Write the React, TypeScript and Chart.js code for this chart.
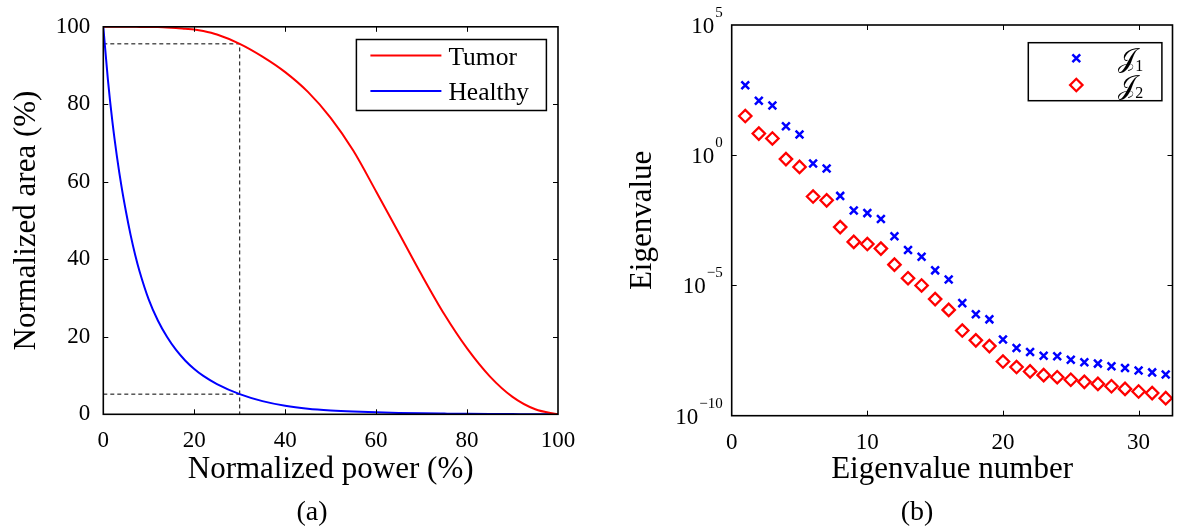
import React, { useEffect, useRef } from "react";
import { Chart, registerables } from "chart.js";

Chart.register(...registerables);

const SERIF = '"Liberation Serif", "Times New Roman", "DejaVu Serif", serif';

// ---------- (a) Normalized area vs normalized power ----------
const powerPct = [0, 1, 2, 3, 4, 5, 6, 7, 8, 10, 12, 14, 16, 18, 20, 22, 25, 30, 35, 40, 45, 50, 55, 60, 65, 70, 75, 80, 85, 90, 95, 100];
const tumorArea = [100, 100, 100, 100, 100, 100, 100, 99.99, 99.98, 99.97, 99.93, 99.85, 99.7, 99.5, 99.3, 98.9, 98.0, 95.6, 92.3, 88.3, 83.2, 76.5, 68.0, 57.5, 46.8, 36.0, 25.8, 17.0, 9.8, 4.5, 1.3, 0];
const healthyArea = [100, 86.5, 75.5, 66.5, 58.8, 52.2, 46.3, 41.2, 36.8, 29.6, 24.2, 20.0, 16.6, 13.9, 11.7, 9.9, 7.8, 5.2, 3.4, 2.2, 1.45, 1.0, 0.7, 0.5, 0.35, 0.25, 0.18, 0.12, 0.08, 0.05, 0.03, 0];
const markerPower = 30;
const tumorAtMarker = 95.6;
const healthyAtMarker = 5.2;
const powerTicks = [0, 20, 40, 60, 80, 100];
const areaTicks = [0, 20, 40, 60, 80, 100];
const seriesNamesA = ["Tumor", "Healthy"];

// ---------- (b) Eigenvalues ----------
const eigNumber = [1, 2, 3, 4, 5, 6, 7, 8, 9, 10, 11, 12, 13, 14, 15, 16, 17, 18, 19, 20, 21, 22, 23, 24, 25, 26, 27, 28, 29, 30, 31, 32];
const eigJ1 = [490, 123, 81, 13, 6.2, 0.48, 0.31, 0.0275, 0.0076, 0.006, 0.00355, 7.8e-4, 2.3e-4, 1.26e-4, 3.8e-5, 1.7e-5, 2.1e-6, 7.8e-7, 5.0e-7, 8.5e-8, 4.0e-8, 2.8e-8, 2.0e-8, 1.9e-8, 1.4e-8, 1.12e-8, 1.0e-8, 7.9e-9, 6.8e-9, 5.4e-9, 4.6e-9, 3.8e-9];
const eigJ2 = [32, 6.8, 4.4, 0.71, 0.355, 0.026, 0.0186, 0.00174, 4.7e-4, 3.9e-4, 2.6e-4, 6.3e-5, 1.9e-5, 1.0e-5, 3.0e-6, 1.15e-6, 1.86e-7, 7.8e-8, 4.7e-8, 1.2e-8, 7.4e-9, 5.0e-9, 3.6e-9, 3.0e-9, 2.4e-9, 2.0e-9, 1.66e-9, 1.35e-9, 1.07e-9, 8.5e-10, 7.4e-10, 4.7e-10];
const eigNumberTicks = [0, 10, 20, 30];
const eigValueTicks = [1e-10, 1e-5, 1, 1e5];
const seriesNamesB = ["\u{1D4A5}", "\u{1D4A5}"];
const seriesSubB = ["1", "2"];

// ---------- plugins ----------
const framePlugin = {
  id: "frame",
  afterDatasetsDraw(chart: any) {
    const { ctx, chartArea: ca, scales } = chart;
    ctx.save();
    ctx.strokeStyle = "#000";
    const tl = 5;
    ctx.lineWidth = 1;
    ctx.beginPath();
    scales.x.ticks.forEach((t: any) => {
      const px = Math.round(scales.x.getPixelForValue(t.value)) + 0.5;
      if (px <= ca.left + 2 || px >= ca.right - 2) return;
      ctx.moveTo(px, ca.bottom);
      ctx.lineTo(px, ca.bottom - tl);
      ctx.moveTo(px, ca.top);
      ctx.lineTo(px, ca.top + tl);
    });
    scales.y.ticks.forEach((t: any) => {
      const py = Math.round(scales.y.getPixelForValue(t.value)) + 0.5;
      if (py <= ca.top + 2 || py >= ca.bottom - 2) return;
      ctx.moveTo(ca.left, py);
      ctx.lineTo(ca.left + tl, py);
      ctx.moveTo(ca.right, py);
      ctx.lineTo(ca.right - tl, py);
    });
    ctx.stroke();
    ctx.lineWidth = 1.6;
    ctx.strokeRect(ca.left, ca.top, ca.right - ca.left, ca.bottom - ca.top);
    ctx.restore();
  },
};

function drawMarker(ctx: any, style: string, x: number, y: number, r: number, color: string, lw: number) {
  ctx.save();
  ctx.strokeStyle = color;
  ctx.lineWidth = lw;
  ctx.beginPath();
  if (style === "crossRot") {
    const d = r * Math.SQRT1_2;
    ctx.moveTo(x - d, y - d);
    ctx.lineTo(x + d, y + d);
    ctx.moveTo(x + d, y - d);
    ctx.lineTo(x - d, y + d);
  } else {
    ctx.moveTo(x - r, y);
    ctx.lineTo(x, y - r);
    ctx.lineTo(x + r, y);
    ctx.lineTo(x, y + r);
    ctx.closePath();
  }
  ctx.stroke();
  ctx.restore();
}

const boxLegendPlugin = {
  id: "boxLegend",
  afterDraw(chart: any, _a: any, opts: any) {
    const { ctx, chartArea: ca } = chart;
    const ds = chart.data.datasets;
    const left = ca.right - opts.offRight - opts.width;
    const top = ca.top + opts.offTop;
    ctx.save();
    ctx.fillStyle = "#fff";
    ctx.fillRect(left, top, opts.width, opts.height);
    ctx.strokeStyle = "#000";
    ctx.lineWidth = 1.5;
    ctx.strokeRect(left, top, opts.width, opts.height);
    opts.items.forEach((it: any, i: number) => {
      const d = ds[it.dataset];
      const y = top + opts.rowY[i];
      if (opts.kind === "line") {
        ctx.strokeStyle = d.borderColor;
        ctx.lineWidth = d.borderWidth;
        ctx.beginPath();
        ctx.moveTo(left + opts.symX0, y);
        ctx.lineTo(left + opts.symX1, y);
        ctx.stroke();
      } else {
        drawMarker(ctx, d.pointStyle, left + opts.symX0, y, d.pointRadius, d.borderColor, d.borderWidth);
      }
      ctx.fillStyle = "#000";
      ctx.textBaseline = "alphabetic";
      ctx.textAlign = "left";
      ctx.font = opts.font;
      const tx = left + opts.textX;
      const base = y + opts.baseOff;
      ctx.fillText(it.label, tx, base);
      if (it.sub) {
        const w = ctx.measureText(it.label).width;
        ctx.font = opts.subFont;
        ctx.fillText(it.sub, tx + w - 1, base + 4);
      }
    });
    ctx.restore();
  },
};

const captionPlugin = {
  id: "caption",
  afterDraw(chart: any, _a: any, opts: any) {
    const { ctx } = chart;
    ctx.save();
    ctx.fillStyle = "#000";
    ctx.font = opts.font;
    ctx.textAlign = "center";
    ctx.textBaseline = "middle";
    ctx.fillText(opts.text, opts.x, opts.y);
    ctx.restore();
  },
};

const powerLabelPlugin = {
  id: "powerLabels",
  afterDraw(chart: any) {
    const { ctx, chartArea: ca, scales } = chart;
    const y = scales.y;
    ctx.save();
    ctx.fillStyle = "#000";
    ctx.textBaseline = "alphabetic";
    y.ticks.forEach((t: any) => {
      const py = y.getPixelForValue(t.value);
      const e = Math.round(Math.log10(t.value));
      const expStr = e < 0 ? "\u2212" + Math.abs(e) : String(e);
      ctx.font = "15px " + SERIF;
      const ew = ctx.measureText(expStr).width;
      const right = ca.left - 9;
      ctx.textAlign = "left";
      ctx.fillText(expStr, right - ew, py - 8);
      ctx.font = "23px " + SERIF;
      ctx.textAlign = "right";
      ctx.fillText("10", right - ew - 1, py + 8);
    });
    ctx.restore();
  },
};

function ChartA() {
  const ref = useRef<HTMLCanvasElement>(null);
  useEffect(() => {
    const dashed = {
      borderColor: "#000",
      borderWidth: 1,
      borderDash: [4, 3],
      pointRadius: 0,
      tension: 0,
      fill: false,
    };
    const chart = new Chart(ref.current as HTMLCanvasElement, {
      type: "line",
      data: {
        datasets: [
          {
            label: seriesNamesA[0],
            data: powerPct.map((p, i) => ({ x: p, y: tumorArea[i] })),
            borderColor: "#ff0000",
            borderWidth: 2,
            pointRadius: 0,
            cubicInterpolationMode: "monotone",
            fill: false,
          },
          {
            label: seriesNamesA[1],
            data: powerPct.map((p, i) => ({ x: p, y: healthyArea[i] })),
            borderColor: "#0000ff",
            borderWidth: 2,
            pointRadius: 0,
            cubicInterpolationMode: "monotone",
            fill: false,
          },
          {
            label: "guide1",
            data: [
              { x: 0, y: tumorAtMarker },
              { x: markerPower, y: tumorAtMarker },
              { x: markerPower, y: 0 },
            ],
            ...dashed,
          },
          {
            label: "guide2",
            data: [
              { x: 0, y: healthyAtMarker },
              { x: markerPower, y: healthyAtMarker },
            ],
            ...dashed,
          },
        ],
      } as any,
      options: {
        animation: false,
        responsive: false,
        events: [],
        layout: { padding: { left: 0, right: 32, top: 24, bottom: 41 } },
        scales: {
          x: {
            type: "linear",
            min: 0,
            max: 100,
            afterBuildTicks: (s: any) => {
              s.ticks = powerTicks.map((v) => ({ value: v }));
            },
            afterFit: (s: any) => {
              s.height = 73.7;
            },
            grid: { display: false, drawTicks: false },
            border: { display: false },
            ticks: { color: "#000", font: { family: SERIF, size: 23 }, padding: 13, maxRotation: 0 },
            title: {
              display: true,
              text: "Normalized power (%)",
              color: "#000",
              font: { family: SERIF, size: 31 },
              padding: { top: 0, bottom: 0 },
            },
          },
          y: {
            type: "linear",
            min: 0,
            max: 100,
            afterBuildTicks: (s: any) => {
              s.ticks = areaTicks.map((v) => ({ value: v }));
            },
            afterFit: (s: any) => {
              s.width = 103.3;
            },
            grid: { display: false, drawTicks: false },
            border: { display: false },
            ticks: { color: "#000", font: { family: SERIF, size: 23 }, padding: 13 },
            title: {
              display: true,
              text: "Normalized area (%)",
              color: "#000",
              font: { family: SERIF, size: 31 },
              padding: { top: 8, bottom: 0 },
            },
          },
        },
        plugins: {
          legend: { display: false },
          tooltip: { enabled: false },
          boxLegend: {
            kind: "line",
            offRight: 11.6,
            offTop: 12.7,
            width: 190,
            height: 71,
            symX0: 14,
            symX1: 85,
            textX: 92,
            rowY: [16, 51.6],
            baseOff: 9,
            font: "25.5px " + SERIF,
            items: [
              { dataset: 0, label: seriesNamesA[0] },
              { dataset: 1, label: seriesNamesA[1] },
            ],
          },
          caption: { text: "(a)", x: 312, y: 513, font: "28px " + SERIF },
        } as any,
      },
      plugins: [framePlugin, boxLegendPlugin, captionPlugin],
    } as any);
    return () => chart.destroy();
  }, []);
  return <canvas ref={ref} width={590} height={529} style={{ position: "absolute", left: 0, top: 0 }} />;
}

function ChartB() {
  const ref = useRef<HTMLCanvasElement>(null);
  useEffect(() => {
    const chart = new Chart(ref.current as HTMLCanvasElement, {
      type: "scatter",
      data: {
        datasets: [
          {
            label: "J1",
            data: eigNumber.map((n, i) => ({ x: n, y: eigJ1[i] })),
            pointStyle: "crossRot",
            pointRadius: 5.5,
            borderColor: "#0000ff",
            backgroundColor: "rgba(0,0,0,0)",
            borderWidth: 2.5,
          },
          {
            label: "J2",
            data: eigNumber.map((n, i) => ({ x: n, y: eigJ2[i] })),
            pointStyle: "rectRot",
            pointRadius: 6.2,
            borderColor: "#ff0000",
            backgroundColor: "rgba(0,0,0,0)",
            borderWidth: 2.3,
          },
        ],
      } as any,
      options: {
        animation: false,
        responsive: false,
        events: [],
        layout: { padding: { left: 0, right: 7, top: 25, bottom: 41 } },
        scales: {
          x: {
            type: "linear",
            min: 0,
            max: 32.5,
            afterBuildTicks: (s: any) => {
              s.ticks = eigNumberTicks.map((v) => ({ value: v }));
            },
            afterFit: (s: any) => {
              s.height = 72.3;
            },
            grid: { display: false, drawTicks: false },
            border: { display: false },
            ticks: { color: "#000", font: { family: SERIF, size: 23 }, padding: 13, maxRotation: 0 },
            title: {
              display: true,
              text: "Eigenvalue number",
              color: "#000",
              font: { family: SERIF, size: 31 },
              padding: { top: 0, bottom: 0 },
            },
          },
          y: {
            type: "logarithmic",
            min: 1e-10,
            max: 1e5,
            afterBuildTicks: (s: any) => {
              s.ticks = eigValueTicks.map((v) => ({ value: v }));
            },
            afterFit: (s: any) => {
              s.width = 141.7;
            },
            grid: { display: false, drawTicks: false },
            border: { display: false },
            ticks: { display: false },
            title: {
              display: true,
              text: "Eigenvalue",
              color: "#000",
              font: { family: SERIF, size: 31 },
              padding: { top: 34, bottom: 0 },
            },
          },
        },
        plugins: {
          legend: { display: false },
          tooltip: { enabled: false },
          boxLegend: {
            kind: "point",
            offRight: 10.6,
            offTop: 17.7,
            width: 133.6,
            height: 58,
            symX0: 48,
            textX: 90,
            rowY: [15.6, 42.3],
            baseOff: 9,
            font: "26px " + SERIF,
            subFont: "16px " + SERIF,
            items: [
              { dataset: 0, label: seriesNamesB[0], sub: seriesSubB[0] },
              { dataset: 1, label: seriesNamesB[1], sub: seriesSubB[1] },
            ],
          },
          caption: { text: "(b)", x: 917 - 590, y: 513, font: "28px " + SERIF },
        } as any,
      },
      plugins: [framePlugin, powerLabelPlugin, boxLegendPlugin, captionPlugin],
    } as any);
    return () => chart.destroy();
  }, []);
  return <canvas ref={ref} width={591} height={529} style={{ position: "absolute", left: 590, top: 0 }} />;
}

export default function App() {
  return (
    <div style={{ position: "absolute", left: 0, top: 0, width: 1181, height: 529, background: "#fff" }}>
      <ChartA />
      <ChartB />
    </div>
  );
}
